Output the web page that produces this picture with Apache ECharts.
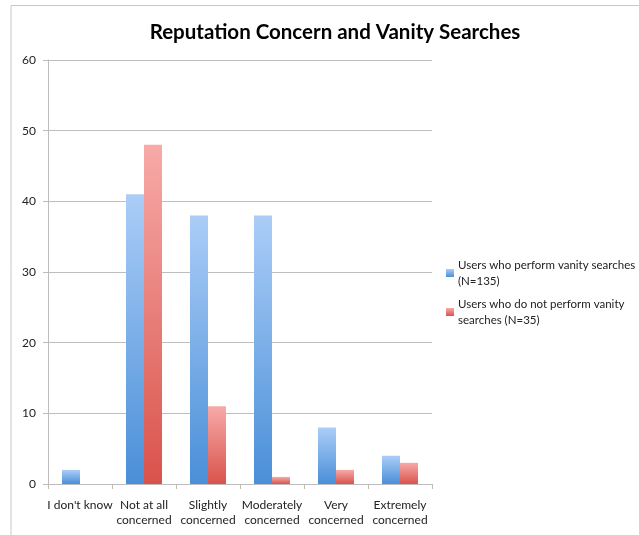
<!DOCTYPE html>
<html>
<head>
<meta charset="utf-8">
<script src="https://cdn.jsdelivr.net/npm/echarts@6/dist/echarts.min.js"></script>
<style>
  html, body { margin: 0; padding: 0; background: #fff; }
  #main { width: 639px; height: 535px; }
</style>
</head>
<body>
<div id="main"></div>
<script>
// categories and values
const categories = ['I don\'t know', 'Not at all\nconcerned', 'Slightly\nconcerned', 'Moderately\nconcerned', 'Very\nconcerned', 'Extremely\nconcerned'];
const searchers = [2, 41, 38, 38, 8, 4];
const nonSearchers = [0, 48, 11, 1, 2, 3];
const seriesNames = ['Users who perform vanity searches\n(N=135)', 'Users who do not perform vanity\nsearches (N=35)'];

const font = 'Lato, "Open Sans", sans-serif';

const grad = (top, bottom) => new echarts.graphic.LinearGradient(0, 0, 0, 1, [
  { offset: 0, color: top },
  { offset: 1, color: bottom }
]);

const myChart = echarts.init(document.getElementById('main'));
const option = {
  animation: false,
  title: {
    text: 'Reputation Concern and Vanity Searches',
    left: 330,
    textAlign: 'center',
    top: 17,
    textStyle: { fontFamily: font, fontSize: 20.5, fontWeight: 'bold', color: '#000' }
  },
  graphic: [
    {
      type: 'polyline',
      shape: { points: [[11, 535], [11, 5.5], [639, 5.5]] },
      style: { stroke: '#c8c8c8', lineWidth: 1, fill: null }
    }
  ],
  legend: {
    orient: 'vertical',
    left: 446,
    top: 257,
    padding: 0,
    itemWidth: 8,
    itemHeight: 8,
    itemGap: 7,
    icon: 'rect',
    textStyle: { fontFamily: font, fontSize: 11.5, color: '#222', lineHeight: 16, padding: [0, 0, 0, -1] },
    data: seriesNames
  },
  grid: { left: 48, right: 207, top: 60, bottom: 51, containLabel: false },
  xAxis: {
    type: 'category',
    data: categories,
    axisLine: { lineStyle: { color: '#bdbdbd' } },
    axisTick: { show: true, alignWithLabel: false, length: 5, lineStyle: { color: '#bdbdbd' } },
    axisLabel: { fontFamily: font, fontSize: 12, color: '#222', lineHeight: 15, margin: 14, interval: 0 }
  },
  yAxis: {
    type: 'value',
    min: 0,
    max: 60,
    interval: 10,
    axisLine: { show: true, lineStyle: { color: '#bdbdbd' } },
    axisTick: { show: true, length: 5, lineStyle: { color: '#bdbdbd' } },
    axisLabel: { fontFamily: font, fontSize: 12, color: '#222', margin: 12 },
    splitLine: { lineStyle: { color: '#bdbdbd' } }
  },
  series: [
    {
      name: seriesNames[0],
      type: 'bar',
      data: searchers,
      barWidth: 18,
      barGap: '0%',
      itemStyle: { color: grad('#abcdf7', '#4a8fd8') }
    },
    {
      name: seriesNames[1],
      type: 'bar',
      data: nonSearchers,
      barWidth: 18,
      barGap: '0%',
      itemStyle: { color: grad('#f7aaa8', '#d9534b') }
    }
  ]
};
myChart.setOption(option);
</script>
</body>
</html>
